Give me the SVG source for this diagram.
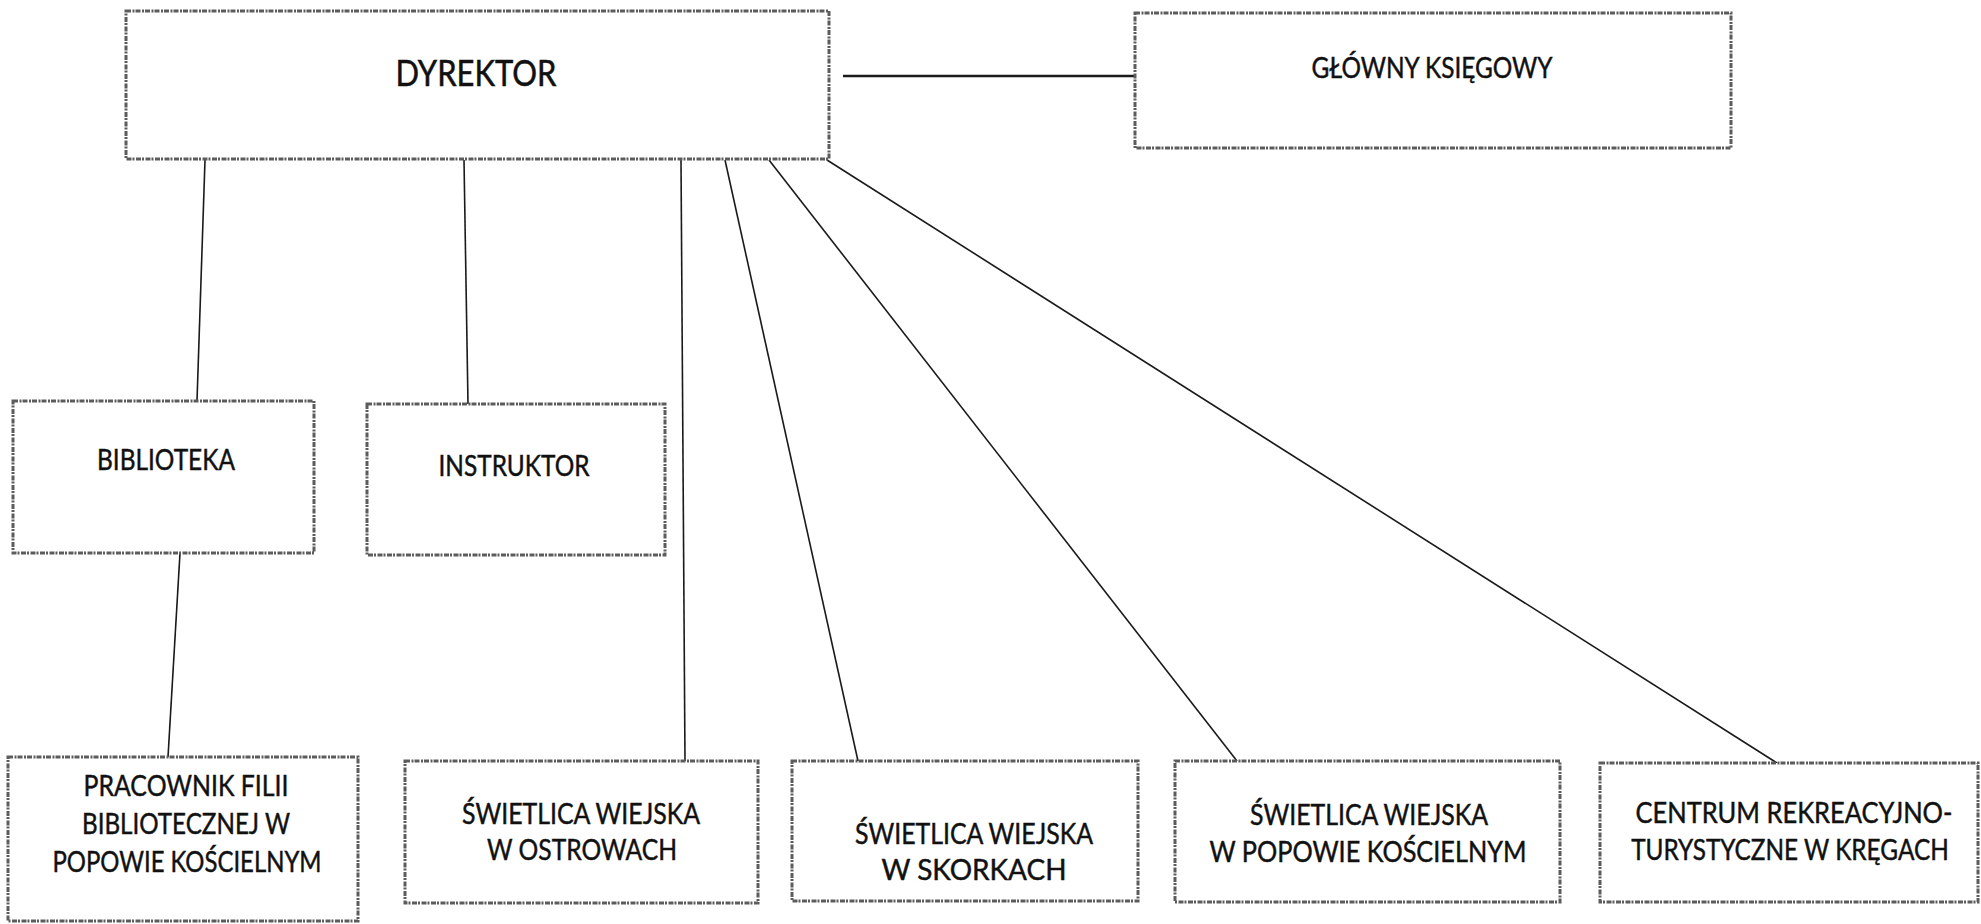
<svg xmlns="http://www.w3.org/2000/svg" width="1981" height="924" viewBox="0 0 1981 924">
<style>
.box{fill:#ffffff;stroke:#5c5c5c;stroke-width:3;stroke-dasharray:5 1.5 2 1}
.t{font-family:Lato,"Open Sans","Liberation Sans",sans-serif;font-size:28px;fill:#111111;stroke:#111111;stroke-width:0.45;text-anchor:middle}
.big{font-size:37px;stroke-width:0.55}
.con line{stroke:#1a1a1a;stroke-width:1.6;fill:none}
</style>
<rect x="0" y="0" width="1981" height="924" fill="#ffffff"/>
<g id="connectors" class="con">
<line x1="843" y1="76" x2="1135" y2="76" style="stroke-width:2.6"/>
<line x1="205" y1="160" x2="197" y2="401"/>
<line x1="464" y1="160" x2="468" y2="404"/>
<line x1="180" y1="553" x2="168" y2="757"/>
<line x1="681" y1="160" x2="685" y2="761"/>
<line x1="725" y1="160" x2="858" y2="761"/>
<line x1="769" y1="160" x2="1237" y2="761"/>
<line x1="827" y1="160" x2="1777" y2="763"/>
</g>
<g id="dyrektor">
<rect class="box" x="126" y="11" width="703" height="148"/>
<text class="t big" x="476" y="86" textLength="161" lengthAdjust="spacingAndGlyphs">DYREKTOR</text>
</g>
<g id="glowny-ksiegowy">
<rect class="box" x="1135" y="13" width="596" height="135"/>
<text class="t" x="1432" y="78" textLength="241" lengthAdjust="spacingAndGlyphs">GŁÓWNY KSIĘGOWY</text>
</g>
<g id="biblioteka">
<rect class="box" x="13" y="401" width="301" height="152"/>
<text class="t" x="166" y="470" textLength="138" lengthAdjust="spacingAndGlyphs">BIBLIOTEKA</text>
</g>
<g id="instruktor">
<rect class="box" x="367" y="404" width="298" height="151"/>
<text class="t" x="514" y="476" textLength="151" lengthAdjust="spacingAndGlyphs">INSTRUKTOR</text>
</g>
<g id="pracownik-filii">
<rect class="box" x="8" y="757" width="350" height="164"/>
<text class="t" x="186" y="796" textLength="205" lengthAdjust="spacingAndGlyphs">PRACOWNIK FILII</text>
<text class="t" x="186" y="834" textLength="208" lengthAdjust="spacingAndGlyphs">BIBLIOTECZNEJ W</text>
<text class="t" x="187" y="872" textLength="269" lengthAdjust="spacingAndGlyphs">POPOWIE KOŚCIELNYM</text>
</g>
<g id="swietlica-ostrowy">
<rect class="box" x="405" y="761" width="353" height="142"/>
<text class="t" x="581" y="824" textLength="238" lengthAdjust="spacingAndGlyphs">ŚWIETLICA WIEJSKA</text>
<text class="t" x="582" y="860" textLength="190" lengthAdjust="spacingAndGlyphs">W OSTROWACH</text>
</g>
<g id="swietlica-skorki">
<rect class="box" x="792" y="761" width="346" height="140"/>
<text class="t" x="974" y="844" textLength="238" lengthAdjust="spacingAndGlyphs">ŚWIETLICA WIEJSKA</text>
<text class="t" x="974" y="880" textLength="185" lengthAdjust="spacingAndGlyphs">W SKORKACH</text>
</g>
<g id="swietlica-popowo">
<rect class="box" x="1175" y="761" width="385" height="141"/>
<text class="t" x="1369" y="825" textLength="238" lengthAdjust="spacingAndGlyphs">ŚWIETLICA WIEJSKA</text>
<text class="t" x="1368" y="862" textLength="317" lengthAdjust="spacingAndGlyphs">W POPOWIE KOŚCIELNYM</text>
</g>
<g id="centrum-kregi">
<rect class="box" x="1600" y="763" width="378" height="139"/>
<text class="t" transform="translate(1794 823) scale(0.91 1)" x="0" y="0">CENTRUM REKREACYJNO-</text>
<text class="t" transform="translate(1790 860) scale(0.87 1)" x="0" y="0">TURYSTYCZNE W KRĘGACH</text>
</g>
</svg>
